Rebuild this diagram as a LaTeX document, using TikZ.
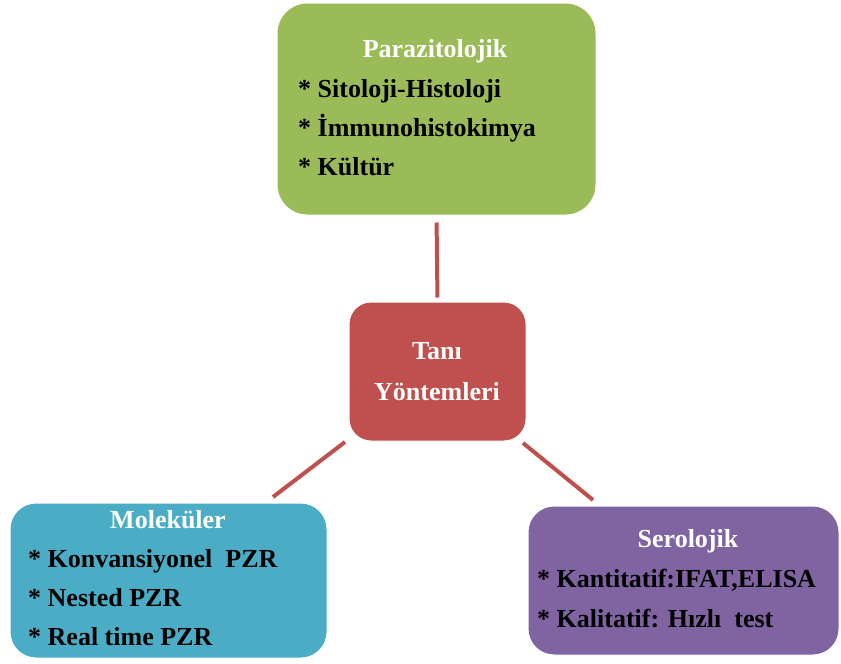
\documentclass[tikz,border=0pt]{standalone}
\usepackage{fontspec}
\setmainfont{Liberation Serif}[BoldFont={Liberation Serif Bold}]
\newfontfamily\yazi{Liberation Serif}[BoldFont={Liberation Serif Bold}]
\usepackage{xcolor}
\usepackage{tikz}
\usetikzlibrary{positioning}

\definecolor{parYesil}{HTML}{9BBB59}
\definecolor{tanKirmizi}{HTML}{C0504D}
\definecolor{molMavi}{HTML}{4BACC6}
\definecolor{serMor}{HTML}{8064A2}

\begin{document}
\begin{tikzpicture}[x=1pt, y=-1pt,
		kutu/.style={draw=white, line width=1pt, inner sep=0pt},
		baslik/.style={white, inner sep=0pt, anchor=base, font=\yazi\fontsize{26}{30}\selectfont\bfseries},
		madde/.style={black, inner sep=0pt, anchor=base west, font=\yazi\fontsize{26}{30}\selectfont\bfseries},
		bag/.style={tanKirmizi, line width=4pt}]
			\useasboundingbox (0,0) rectangle (841,664);

			% kutular
			\node[kutu, fill=parYesil, rounded corners=30pt, minimum width=319pt, minimum height=212pt] (paraz) at (436.5,109) {};
			\node[kutu, fill=tanKirmizi, rounded corners=22pt, minimum width=177pt, minimum height=139pt] (tani) at (437.5,371.5) {};
			\node[kutu, fill=molMavi, rounded corners=26pt, minimum width=317pt, minimum height=155pt] (molek) at (168.5,580.5) {};
			\node[kutu, fill=serMor, rounded corners=26pt, minimum width=311pt, minimum height=149pt] (sero) at (683.5,580.5) {};

			% Parazitolojik
			\node[baslik] (parazB) at (435,57) {Parazitolojik};
			\foreach \t [count=\i] in {Sitoloji-Histoloji, İmmunohistokimya, Kültür} {
					\node[madde] (paraz\i) at (298, {58+39*\i}) {* \t};
				}

			% Tanı Yöntemleri
			\node[baslik] (taniA) at (437,359) {Tanı};
			\node[baslik] (taniB) at (437,400) {Yöntemleri};

			% Moleküler
			\node[baslik] (molekB) at (168,528) {Moleküler};
			\foreach \t [count=\i] in {Konvansiyonel\ \ PZR, Nested PZR, Real time PZR} {
					\node[madde] (molek\i) at (28, {528+39*\i}) {* \t};
				}

			% Serolojik
			\node[baslik] (seroB) at (688,547) {Serolojik};
			\node[madde] (sero1) at (537,587) {* Kantitatif:IFAT,ELISA};
			\node[madde] (sero2) at (537,627) {* Kalitatif: Hızlı\ \ test};

			% baglantilar
			\coordinate (solUc) at (273,497);
			\coordinate (solBas) at (345,442);
			\coordinate (sagBas) at (523,443);
			\coordinate (sagUc) at (593,500);
			\draw[bag, shorten <=7pt, shorten >=4pt] (paraz.south) -- (tani.north);
			\draw[bag] (solBas) -- (solUc);
			\draw[bag] (sagBas) -- (sagUc);
		\end{tikzpicture}
\end{document}
